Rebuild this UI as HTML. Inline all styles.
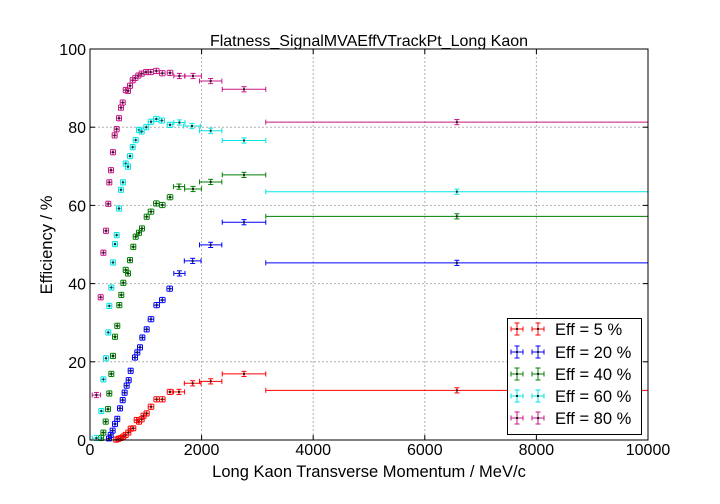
<!DOCTYPE html>
<html><head><meta charset="utf-8"><style>
html,body{margin:0;padding:0;background:#fff;}
svg{display:block;font-family:"Liberation Sans",sans-serif;}
</style></head><body>
<svg id="chart" width="720" height="504" xmlns="http://www.w3.org/2000/svg">
<rect width="720" height="504" fill="#fff"/>
<g id="grid"></g>
<g id="series"></g>
<rect x="90" y="49" width="558" height="391" fill="none" stroke="#000" stroke-width="1"/>
<g id="ticks"></g>
<text x="369" y="46" text-anchor="middle" font-size="16">Flatness_SignalMVAEffVTrackPt_Long Kaon</text>
<text x="369" y="477" text-anchor="middle" font-size="16.5">Long Kaon Transverse Momentum / MeV/c</text>
<text x="0" y="0" transform="translate(52,245) rotate(-90)" text-anchor="middle" font-size="16.5">Efficiency / %</text>
<g id="legend"></g>
</svg>
<script>
const xTicks=[0,2000,4000,6000,8000,10000];
const yTicks=[0,20,40,60,80,100];
const seriesNames=["Eff = 5 %","Eff = 20 %","Eff = 40 %","Eff = 60 %","Eff = 80 %"];
const seriesColors=["#ff0000","#0000ff","#008000","#00e5e5","#c71585"];
const redX=[470,508,549,597,640,687,729,776,836,878,926,959,1016,1093,1195,1296,1434,1595,1840,2163,2760,6575];
const redY=[0.1,0.3,0.5,0.9,1.3,1.9,2.9,3.0,5.1,4.7,5.3,6.2,6.8,8.5,10.4,10.4,12.3,12.3,14.5,15.0,16.9,12.7];
const blueX=[340,371,406,448,489,538,586,621,657,693,729,806,848,896,938,1016,1093,1195,1296,1428,1602,1840,2163,2760,6575];
const blueY=[0.4,1.3,2.4,4.1,5.4,8.1,10.2,12.1,13.9,15.3,17.7,21.1,22.4,23.7,26.2,28.3,30.9,34.5,35.8,38.7,42.6,45.8,49.9,55.7,45.3];
const greenX=[200,240,281,323,346,382,412,448,489,525,561,597,640,681,717,776,819,878,932,1016,1093,1189,1296,1434,1595,1846,2163,2760,6575];
const greenY=[0.5,1.9,4.7,7.9,11.9,16.9,21.5,26.4,29.2,34.5,37.1,40.2,43.5,42.6,46.0,49.4,52.0,53.0,54.1,57.1,58.4,60.5,60.1,62.1,64.8,64.2,66.0,67.8,57.2];
const cyanX=[115,203,240,287,328,346,382,412,448,478,520,555,591,640,681,717,765,819,878,926,1009,1093,1189,1285,1434,1602,1828,2163,2760,6575];
const cyanY=[0.5,7.4,15.5,20.9,27.5,34.3,39.0,45.4,50.1,52.4,59.2,64.0,65.9,70.7,69.9,72.6,74.9,76.7,79.3,78.9,80.0,81.4,82.1,81.7,80.6,81.2,80.3,79.1,76.6,63.5];
const magentaX=[115,192,240,287,328,346,376,412,442,478,520,555,586,640,681,717,765,812,866,926,1004,1088,1189,1296,1434,1602,1846,2163,2760,6575];
const magentaY=[11.5,36.5,47.9,53.5,60.4,65.9,69.0,73.6,77.9,79.5,82.3,85.0,86.3,89.5,89.3,90.6,92.0,92.6,93.2,93.7,94.1,94.1,94.4,93.8,93.9,93.1,93.1,91.8,89.7,81.3];
const allX=[redX,blueX,greenX,cyanX,magentaX];
const allY=[redY,blueY,greenY,cyanY,magentaY];
const X0=90,X1=648,Y0=440,Y1=49;
const sx=v=>X0+(v/10000)*(X1-X0);
const sy=v=>Y0-(v/100)*(Y0-Y1);
const NS="http://www.w3.org/2000/svg";
function mk(tag,attrs,parent){const e=document.createElementNS(NS,tag);for(const k in attrs)e.setAttribute(k,attrs[k]);parent.appendChild(e);return e;}
function xerrOf(x){if(x>3000)return 3425;if(x>2500)return 390;if(x>2000)return 200;if(x>1700)return 150;if(x>1500)return 100;if(x>1050)return 50;if(x<150)return 75;return 20;}
const grid=document.getElementById('grid'),ticks=document.getElementById('ticks');
xTicks.forEach(t=>{
  if(t>0&&t<10000){const l=mk('line',{x1:sx(t),x2:sx(t),y1:Y1,y2:Y0,stroke:'#b0b0b0','stroke-dasharray':'2,2'},grid);
  }
  mk('line',{x1:sx(t),x2:sx(t),y1:Y0,y2:Y0-5,stroke:'#000'},ticks);
  mk('line',{x1:sx(t),x2:sx(t),y1:Y1,y2:Y1+5,stroke:'#000'},ticks);
  const tx=mk('text',{x:sx(t),y:Y0+15,'text-anchor':'middle','font-size':16},ticks);tx.textContent=t;
  
});
yTicks.forEach(t=>{
  if(t>0&&t<100){const l=mk('line',{x1:X0,x2:X1,y1:sy(t),y2:sy(t),stroke:'#b0b0b0','stroke-dasharray':'2,2'},grid);
  }
  mk('line',{x1:X0,x2:X0+5,y1:sy(t),y2:sy(t),stroke:'#000'},ticks);
  mk('line',{x1:X1,x2:X1-5,y1:sy(t),y2:sy(t),stroke:'#000'},ticks);
  const tx=mk('text',{x:X0-4,y:sy(t)+6,'text-anchor':'end','font-size':16},ticks);tx.textContent=t;
  
});
const sg=document.getElementById('series');
function errbar(g,cx,cy,hw,hh,c){
  mk('line',{x1:cx-hw,x2:cx+hw,y1:cy,y2:cy,stroke:c,'stroke-width':1},g);
  mk('line',{x1:cx,x2:cx,y1:cy-hh,y2:cy+hh,stroke:c,'stroke-width':1},g);
  mk('line',{x1:cx-hw,x2:cx-hw,y1:cy-2.5,y2:cy+2.5,stroke:c},g);
  mk('line',{x1:cx+hw,x2:cx+hw,y1:cy-2.5,y2:cy+2.5,stroke:c},g);
  mk('line',{x1:cx-2.5,x2:cx+2.5,y1:cy-hh,y2:cy-hh,stroke:c},g);
  mk('line',{x1:cx-2.5,x2:cx+2.5,y1:cy+hh,y2:cy+hh,stroke:c},g);
  mk('rect',{x:cx-1,y:cy-1,width:2,height:2,fill:'#222'},g);
}
allX.forEach((xs,si)=>{
  const g=mk('g',{},sg);
  
  
  xs.forEach((x,i)=>{
    const pg=mk('g',{},g);
    
    
    const hw=Math.max(2.5,xerrOf(x)*(X1-X0)/10000);
    const hh=Math.max(2.5,Math.min(allY[si][i],100-allY[si][i])>3?2.6:1.5);
    errbar(pg,sx(x),sy(allY[si][i]),hw,hh,seriesColors[si]);
  });
});
const lg=document.getElementById('legend');
mk('rect',{x:507.5,y:318.5,width:134,height:116,fill:'#fff',stroke:'#000'},lg);
const ly=[329,352,374,396,418];
seriesNames.forEach((n,i)=>{
  const e=mk('g',{},lg);
  
  
  errbar(e,517,ly[i],6,6,seriesColors[i]);
  errbar(e,538,ly[i],6,6,seriesColors[i]);
  const t=mk('text',{x:555,y:ly[i]+6,'font-size':16.5},e);t.textContent=n;
});
</script>
</body></html>
